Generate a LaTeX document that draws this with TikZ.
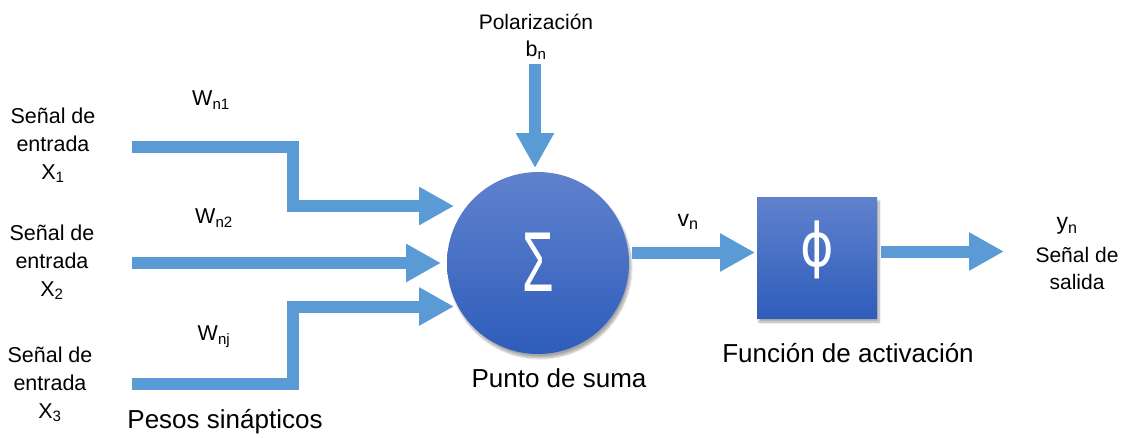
\documentclass[tikz,border=0pt]{standalone}
\usepackage{fontspec}
\setmainfont{Liberation Sans}
\newfontfamily\symfont{DejaVu Sans}
\usepackage{graphicx}
\usetikzlibrary{arrows.meta,shadows.blur}
\definecolor{arrowblue}{RGB}{91,155,213}
\definecolor{nodetop}{RGB}{96,130,205}
\definecolor{nodebot}{RGB}{46,93,187}
\begin{document}
\begin{tikzpicture}[x=1pt,y=-1pt,
  flow/.style={draw=arrowblue, line width=12pt, line join=miter, line cap=butt,
    -{Triangle[length=35pt,width=36pt]}},
  lbl/.style={font=\fontsize{21.5}{28}\selectfont, align=center, inner sep=0pt},
  big/.style={font=\fontsize{26}{30}\selectfont, inner sep=0pt},
  glow/.style={top color=nodetop, bottom color=nodebot, draw=none,
    blur shadow={shadow xshift=2pt, shadow yshift=-4pt, shadow opacity=35, shadow blur steps=10}},
  sym/.style={text=white, inner sep=0pt}]
\useasboundingbox (0,0) rectangle (1130,437);
% main nodes
\node[glow, circle, minimum size=182pt, inner sep=0pt] (sum) at (538,263) {};
\node[sym, font=\fontsize{85}{85}\selectfont] (sigma) at (538,262) {\scalebox{0.6}[1]{Σ}};
\node[glow, rectangle, minimum width=120pt, minimum height=121pt, inner sep=0pt] (phi) at (817,257.5) {};
\node[sym, font=\symfont\fontsize{60}{60}\selectfont] (phisym) at (817,250) {\scalebox{0.85}[1]{ϕ}};
% labels
\node[lbl] (in1) at (53,145) {Señal de\\entrada\\X\textsubscript{1}};
\node[lbl] (in2) at (52,262) {Señal de\\entrada\\X\textsubscript{2}};
\node[lbl] (in3) at (50,384) {Señal de\\entrada\\X\textsubscript{3}};
\node[lbl] (w1) at (211,100) {W\textsubscript{n1}};
\node[lbl] (w2) at (214,218) {W\textsubscript{n2}};
\node[lbl] (w3) at (214,337) {W\textsubscript{nj}};
\node[big] (pesos) at (225,422) {Pesos sinápticos};
\node[lbl, font=\fontsize{21}{28}\selectfont] (pol) at (536,22) {Polarización};
\node[lbl] (bn) at (536,50) {b\textsubscript{n}};
\node[big] (punto) at (559,378) {Punto de suma};
\node[lbl, font=\fontsize{23}{28}\selectfont] (vn) at (688,222) {v\textsubscript{n}};
\node[big] (func) at (848,353) {Función de activación};
\node[lbl, font=\fontsize{23}{28}\selectfont] (yn) at (1067,226) {y\textsubscript{n}};
\node[lbl, font=\fontsize{21}{27}\selectfont] (out) at (1077,268.5) {Señal de\\salida};
% connector end points
\coordinate (s1) at (132,147);
\coordinate (c1a) at (293,147);
\coordinate (c1b) at (293,206);
\coordinate (e1) at (454,206);
\coordinate (s2) at (132,263);
\coordinate (e2) at (441,263);
\coordinate (s3) at (132,383.5);
\coordinate (c3a) at (293,383.5);
\coordinate (c3b) at (293,306.5);
\coordinate (e3) at (454,306.5);
\coordinate (bs) at (535,64);
\coordinate (be) at (535,168);
\coordinate (vs) at (632,252.5);
\coordinate (ve) at (755,252.5);
\coordinate (os) at (881,251.5);
\coordinate (oe) at (1004,251.5);
% connectors
\draw[flow] (s1) -- (c1a) -- (c1b) -- (e1);
\draw[flow] (s2) -- (e2);
\draw[flow] (s3) -- (c3a) -- (c3b) -- (e3);
\draw[flow] (bs) -- (be);
\draw[flow] (vs) -- (ve);
\draw[flow] (os) -- (oe);
\end{tikzpicture}
\end{document}
